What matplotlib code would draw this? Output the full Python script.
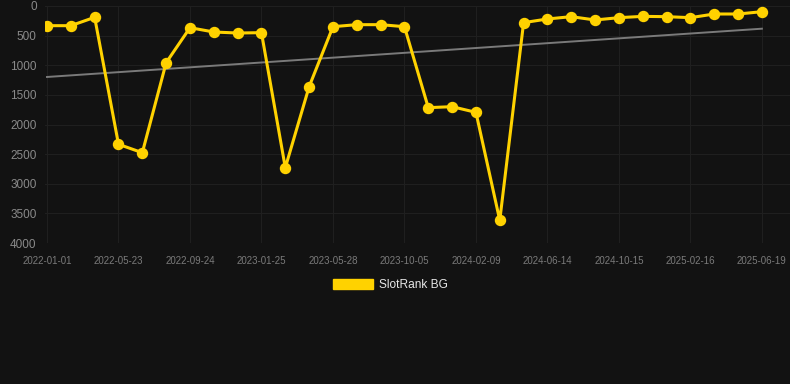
import matplotlib
matplotlib.use("Agg")
import matplotlib.pyplot as plt
from matplotlib.patches import Patch
import numpy as np

# rank per snapshot (lower is better, axis inverted)
ranks = [332, 332, 191, 2334, 2476, 957, 366, 439, 456, 450,
         2729, 1362, 349, 315, 315, 349, 1716, 1699, 1795, 3617,
         281, 219, 180, 236, 197, 175, 180, 197, 135, 135, 96]
tick_labels = ["2022-01-01", "2022-05-23", "2022-09-24", "2023-01-25",
               "2023-05-28", "2023-10-05", "2024-02-09", "2024-06-14",
               "2024-10-15", "2025-02-16", "2025-06-19"]
trend_ends = [1198, 383]
series_name = "SlotRank BG"

BG = "#121212"
YELLOW = "#FFD200"

plt.rcParams["font.family"] = ["Liberation Sans", "DejaVu Sans"]

fig = plt.figure(figsize=(7.9, 3.84), dpi=100, facecolor=BG)
ax = fig.add_axes([45 / 790, 1 - 243 / 384, 1 - 45 / 790, (243 - 6) / 384])
ax.set_facecolor(BG)

x = np.arange(len(ranks))
ax.plot([x[0], x[-1]], trend_ends, color="#7a7a7a", lw=1.4, zorder=2)
ax.plot(x, ranks, color=YELLOW, lw=2.2, marker="o", markersize=7.2, zorder=3)

ax.set_xlim(-2 / 23.83, (790 - 47) / 23.83)
ax.set_ylim(4000, 0)
ax.set_yticks(range(0, 4001, 500))
ax.set_xticks(x[::3])
ax.set_xticklabels(tick_labels)

ax.grid(True, color="#1f1f1f", lw=0.8, zorder=0)
for s in ax.spines.values():
    s.set_visible(False)
ax.tick_params(axis="y", length=0, pad=6, labelsize=8.5, labelcolor="#8a8a8a")
ax.tick_params(axis="x", length=0, pad=9, labelsize=7, labelcolor="#7a7a7a")

handle = Patch(facecolor=YELLOW, edgecolor=YELLOW)
fig.legend([handle], [series_name], loc="center", bbox_to_anchor=(0.494, 0.258),
           frameon=False, fontsize=8.6, labelcolor="#e6e6e6",
           handlelength=3.4, handleheight=0.95, handletextpad=0.5)

fig.savefig("out.png", dpi=100, facecolor=BG)
